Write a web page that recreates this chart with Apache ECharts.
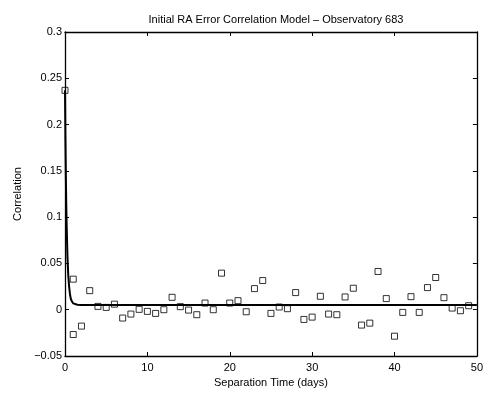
<!DOCTYPE html>
<html>
<head>
<meta charset="utf-8">
<script src="https://cdn.jsdelivr.net/npm/echarts@6/dist/echarts.min.js"></script>
<style>html,body{margin:0;padding:0;background:#fff;}#c{width:486px;height:395px;}</style>
</head>
<body>
<div id="c"></div>
<script>
var titleText = 'Initial RA Error Correlation Model \u2013 Observatory 683';
var xLabel = 'Separation Time (days)';
var yLabel = 'Correlation';

var sepDays = [0,1,1,2,3,4,5,6,7,8,9,10,11,12,13,14,15,16,17,18,19,20,21,22,23,24,25,26,27,28,29,30,31,32,33,34,35,36,37,38,39,40,41,42,43,44,45,46,47,48,49];
var corrObs = [0.237,0.033,-0.0268,-0.0177,0.0206,0.0036,0.0025,0.006,-0.009,-0.0047,0.0004,-0.0018,-0.004,0.0,0.0134,0.0033,-0.0004,-0.0054,0.0072,0.0,0.0395,0.0072,0.0098,-0.0022,0.0228,0.0315,-0.004,0.0029,0.0011,0.0185,-0.0105,-0.008,0.0145,-0.0047,-0.0054,0.0138,0.0232,-0.0166,-0.0145,0.0413,0.012,-0.0286,-0.0029,0.0141,-0.0029,0.0239,0.0348,0.013,0.0018,-0.0011,0.0043];

var modelDays = [0,0.05,0.1,0.15,0.2,0.3,0.4,0.5,0.6,0.7,0.8,1.0,1.2,1.5,2,50];
var modelCorr = [0.237,0.185,0.147,0.115,0.092,0.057,0.037,0.025,0.017,0.012,0.0097,0.0068,0.0058,0.0053,0.0052,0.0052];

var xTicks = {min:0, max:50, interval:10};
var yTicks = {min:-0.05, max:0.3, interval:0.05};

function pair(a,b){ return a.map(function(v,i){ return [v,b[i]]; }); }
function fmt(v){ var s = String(parseFloat(v.toFixed(2))); return s.replace('-', '\u2212'); }

var font = 'Liberation Sans, Arial, Helvetica, sans-serif';
var chart = echarts.init(document.getElementById('c'), null, {renderer:'canvas'});
function common(){ return {
  axisLine:{show:true, onZero:false, lineStyle:{color:'#000', width:1.3}},
  axisTick:{show:true, inside:true, length:4, lineStyle:{color:'#000'}},
  splitLine:{show:false}
}; }
chart.setOption({
  animation:false,
  backgroundColor:'#fff',
  title:{text:titleText, left:271, textAlign:'center', top:9, textStyle:{fontFamily:font, fontSize:11, fontWeight:'normal', color:'#000'}},
  grid:{left:65, right:8, top:32, bottom:39},
  xAxis:[
    Object.assign({type:'value', min:xTicks.min, max:xTicks.max, interval:xTicks.interval, position:'bottom',
      name:xLabel, nameLocation:'middle', nameGap:20, nameTextStyle:{fontFamily:font, fontSize:11, color:'#000'},
      axisLabel:{fontFamily:font, fontSize:11, color:'#000', margin:6, formatter:fmt}}, common()),
    Object.assign({type:'value', min:xTicks.min, max:xTicks.max, interval:xTicks.interval, position:'top',
      axisLabel:{show:false}}, common())
  ],
  yAxis:[
    Object.assign({type:'value', min:yTicks.min, max:yTicks.max, interval:yTicks.interval, position:'left',
      name:yLabel, nameLocation:'middle', nameGap:38, nameRotate:90, nameTextStyle:{fontFamily:font, fontSize:11, color:'#000'},
      axisLabel:{fontFamily:font, fontSize:11, color:'#000', margin:3, formatter:fmt}}, common()),
    Object.assign({type:'value', min:yTicks.min, max:yTicks.max, interval:yTicks.interval, position:'right',
      axisLabel:{show:false}}, common())
  ],
  series:[
    {type:'line', data:pair(modelDays, modelCorr), showSymbol:false, symbol:'none', smooth:false,
      lineStyle:{color:'#000', width:2}, z:2},
    {type:'scatter', data:pair(sepDays, corrObs), symbol:'rect', symbolSize:6,
      itemStyle:{color:'rgba(255,255,255,0)', borderColor:'#000', borderWidth:1}, z:3}
  ]
});
</script>
</body>
</html>
